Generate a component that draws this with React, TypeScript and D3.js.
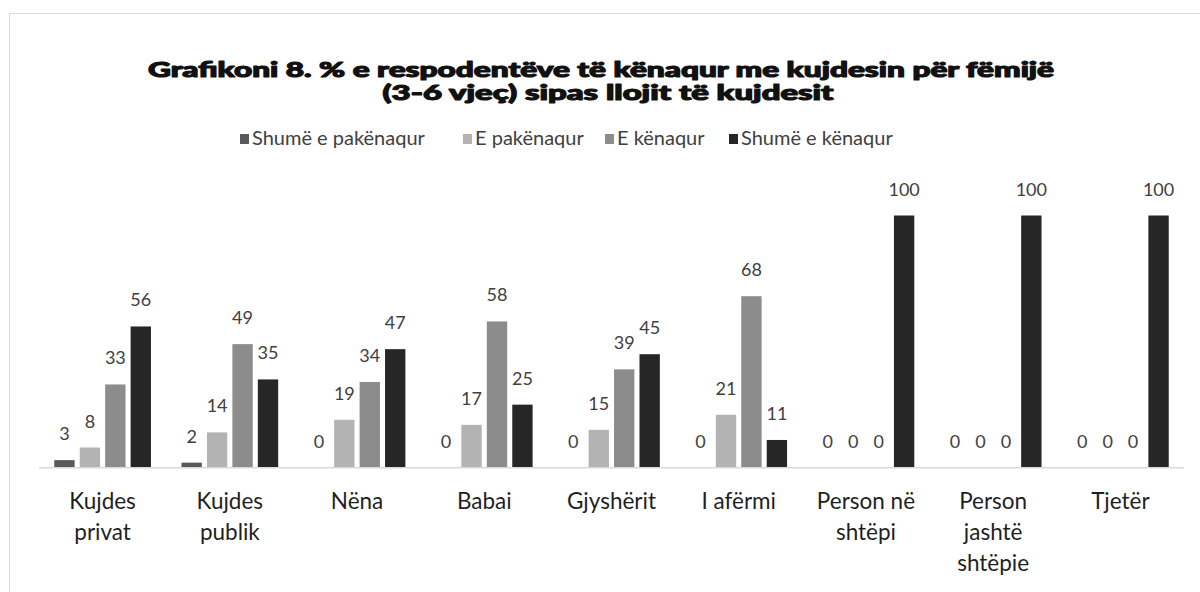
import * as d3 from "d3";

const categories = [
  "Kujdes\nprivat",
  "Kujdes\npublik",
  "Nëna",
  "Babai",
  "Gjyshërit",
  "I afërmi",
  "Person në\nshtëpi",
  "Person\njashtë\nshtëpie",
  "Tjetër",
];

const seriesNames = ["Shumë e pakënaqur", "E pakënaqur", "E kënaqur", "Shumë e kënaqur"];
const seriesColors = ["#595959", "#b3b3b3", "#8c8c8c", "#262626"];

const veryUnsatisfied = [3, 2, 0, 0, 0, 0, 0, 0, 0];
const unsatisfied = [8, 14, 19, 17, 15, 21, 0, 0, 0];
const satisfied = [33, 49, 34, 58, 39, 68, 0, 0, 0];
const verySatisfied = [56, 35, 47, 25, 45, 11, 100, 100, 100];

const seriesValues = [veryUnsatisfied, unsatisfied, satisfied, verySatisfied];

const titleLines = [
  "Grafikoni 8. % e respodentëve të kënaqur me kujdesin për fëmijë",
  "(3-6 vjeç) sipas llojit të kujdesit",
];

const FONT = "Lato, 'Open Sans', sans-serif";

const App = () => {
  const width = 1200;
  const height = 592;
  const plot = { left: 39, right: 1184, top: 215.5, bottom: 467.7 };

  const x0 = d3
    .scaleBand<string>()
    .domain(categories)
    .range([plot.left, plot.right])
    .paddingInner(0.24)
    .paddingOuter(0.12);

  const x1 = d3
    .scaleBand<string>()
    .domain(seriesNames)
    .range([0, x0.bandwidth()])
    .paddingInner(0.2);

  const y = d3.scaleLinear().domain([0, 100]).range([plot.bottom, plot.top]);

  // legend square positions (left edge of each square)
  const legendX = [240, 463, 605, 729];

  const titleProps = {
    textAnchor: "middle" as const,
    fontFamily: FONT,
    fontWeight: 900,
    fontSize: 20,
    fill: "#111",
    stroke: "#111",
    strokeWidth: 1.1,
    strokeLinejoin: "round" as const,
    lengthAdjust: "spacingAndGlyphs",
  };

  return (
    <svg
      width={width}
      height={height}
      style={{ position: "absolute", left: 0, top: 0, background: "#fff" }}
    >
      <rect x={9.5} y={13.5} width={1200} height={600} fill="#fff" stroke="#d9d9d9" />

      {/* title */}
      <text x={601} y={77} textLength={906} {...titleProps}>
        {titleLines[0]}
      </text>
      <text x={608} y={100} textLength={451} {...titleProps}>
        {titleLines[1]}
      </text>

      {/* legend */}
      {seriesNames.map((name, i) => (
        <g key={name}>
          <rect x={legendX[i]} y={134} width={9} height={10} fill={seriesColors[i]} />
          <text x={legendX[i] + 12} y={145} fontFamily={FONT} fontSize={20} fill="#404040">
            {name}
          </text>
        </g>
      ))}

      {/* bars */}
      {categories.map((cat, ci) => (
        <g key={cat} transform={`translate(${x0(cat)},0)`}>
          {seriesNames.map((name, si) => {
            const v = seriesValues[si][ci];
            const bx = x1(name) ?? 0;
            return (
              <g key={name}>
                <rect
                  x={bx}
                  y={y(v)}
                  width={x1.bandwidth()}
                  height={plot.bottom - y(v)}
                  fill={seriesColors[si]}
                />
                <text
                  x={bx + x1.bandwidth() / 2}
                  y={y(v) - 20}
                  textAnchor="middle"
                  fontFamily={FONT}
                  fontSize={18}
                  fill="#404040"
                >
                  {v}
                </text>
              </g>
            );
          })}
        </g>
      ))}

      {/* axis line */}
      <line x1={plot.left} x2={plot.right} y1={plot.bottom} y2={plot.bottom} stroke="#d9d9d9" strokeWidth={1.5} />

      {/* category labels */}
      {categories.map((cat) => (
        <text
          key={cat}
          x={(x0(cat) ?? 0) + x0.bandwidth() / 2}
          y={509}
          textAnchor="middle"
          fontFamily={FONT}
          fontSize={22.5}
          fill="#1f1f1f"
        >
          {cat.split("\n").map((line, li) => (
            <tspan key={li} x={(x0(cat) ?? 0) + x0.bandwidth() / 2} dy={li === 0 ? 0 : 31}>
              {line}
            </tspan>
          ))}
        </text>
      ))}
    </svg>
  );
};

export default App;
